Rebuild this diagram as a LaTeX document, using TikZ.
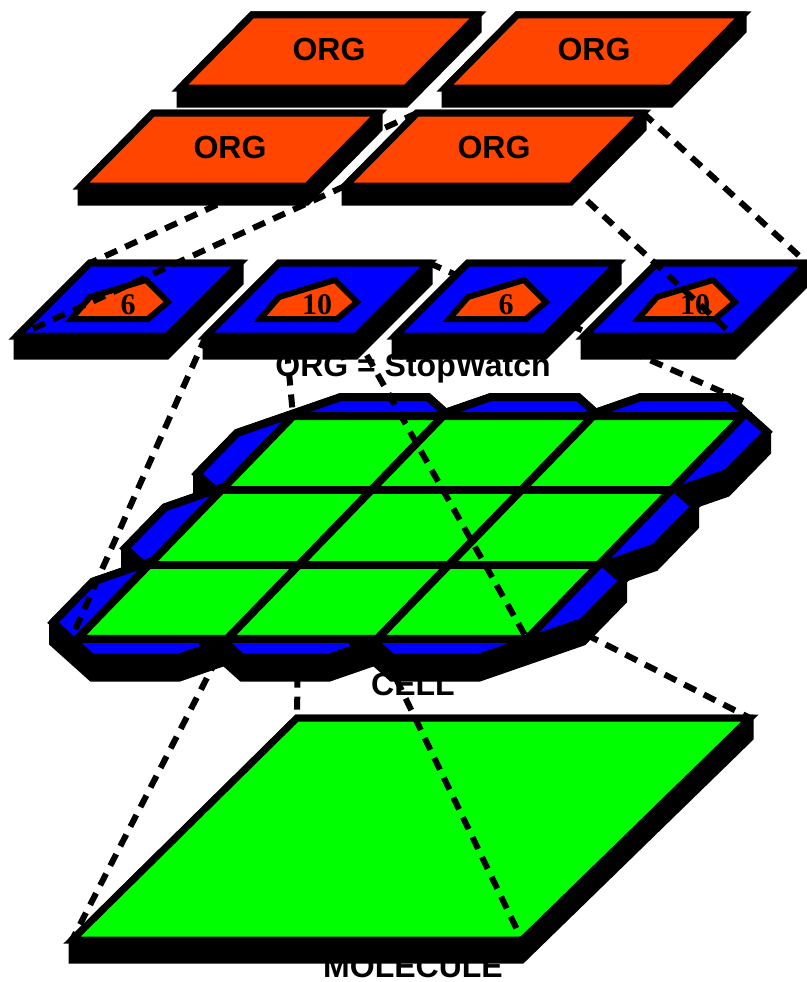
\documentclass[tikz,border=0pt]{standalone}
\usepackage{fontspec}
\setmainfont{Liberation Sans}
\newfontfamily\numfont{Liberation Serif}
\usepackage{tikz}
\usetikzlibrary{calc}
\definecolor{orgred}{HTML}{FF4500}
\definecolor{slabblue}{HTML}{0000FF}
\definecolor{cellgreen}{HTML}{00FF00}
\pgfkeys{tikz/layerlabel/.style={font=\bfseries\fontsize{32}{36}\selectfont,inner sep=0pt,anchor=base}}
\pgfkeys{tikz/numlabel/.style={font=\numfont\bfseries\fontsize{30}{32}\selectfont,inner sep=0pt,anchor=base}}
\pgfkeys{tikz/orgface/.style={fill=orgred,draw=black,line width=7pt}}
\pgfkeys{tikz/tileface/.style={fill=slabblue,draw=black,line width=7pt}}
\pgfkeys{tikz/cellface/.style={fill=cellgreen,draw=black,line width=8pt}}
\pgfkeys{tikz/sidewall/.style={fill=black,draw=black,line width=7pt}}
\pgfkeys{tikz/zoomline/.style={draw=black,line width=6pt,dash pattern=on 13pt off 9pt}}

\begin{document}
\begin{tikzpicture}[x=1pt,y=-1pt]
  \useasboundingbox (0,0) rectangle (806,982);

  % captions first, the plates cover their tops
  \node[layerlabel] (cap-org) at (413,376) {ORG = StopWatch};
  \node[layerlabel] (cap-cell) at (413,695) {CELL};
  \node[layerlabel] (cap-mol) at (413,977) {MOLECULE};

  % corners of everything
  \coordinate (mol-nw) at (297,718);
  \coordinate (mol-ne) at (750,718);
  \coordinate (mol-se) at (522,940);
  \coordinate (mol-sw) at (72,940);
  \foreach \row in {0,...,3}
    \foreach \col in {0,...,3}
      \coordinate (g\row\col) at ({293-72*\row+150*\col},{416+74.33*\row});
  \coordinate (cell-sw) at (75,630);
  \coordinate (cell-ne) at (743,401);
  \foreach \x [count=\i from 0] in {90,279,468,657} {
    \coordinate (t\i-nw) at (\x,263);
    \coordinate (t\i-ne) at ({\x+150},263);
    \coordinate (t\i-se) at ({\x+77},336);
    \coordinate (t\i-sw) at ({\x-73},336);
  }
  \foreach \name/\x/\y in {a/252/15,b/517/15,c/153/113,d/417/113} {
    \coordinate (\name-nw) at (\x,\y);
    \coordinate (\name-ne) at ({\x+226},\y);
    \coordinate (\name-se) at ({\x+154},{\y+73});
    \coordinate (\name-sw) at ({\x-72},{\y+73});
  }

  % molecule
  \draw[sidewall] (mol-nw) -- (mol-ne) -- ++(0,20) -- ($(mol-se)+(0,20)$) -- ($(mol-sw)+(0,20)$) -- (mol-sw) -- cycle;
  \draw[cellface,line width=7pt] (mol-nw) -- (mol-ne) -- (mol-se) -- (mol-sw) -- cycle;

  \draw[zoomline] (g21) -- (mol-nw);
  \draw[zoomline] (g22) -- (mol-ne);
  \draw[zoomline] (g32) -- (mol-se);
  \draw[zoomline] (g31) -- (mol-sw);

  % cell: one slab under every square, back rows first
  \foreach \row in {0,1,2}
    \foreach \col in {0,1,2} {
      \begin{scope}[shift={($(g\row\col)+(39,37)$)}]
        \draw[sidewall,line width=8pt] (-135,21) -- (-95,-20) -- (9,-56) -- (96,-56) -- (135,-21)
          -- (135,-1) -- (95,40) -- (-9,76) -- (-96,76) -- (-135,41) -- cycle;
        \draw[tileface,line width=8pt] (-135,21) -- (-95,-20) -- (9,-56) -- (96,-56) -- (135,-21)
          -- (95,20) -- (-9,56) -- (-96,56) -- cycle;
      \end{scope}
    }
  \draw[cellface] (g00) -- (g03) -- (g33) -- (g30) -- cycle;
  \foreach \k in {1,2} {
    \draw[line width=8pt] (g\k0) -- (g\k3);
    \draw[line width=8pt] (g0\k) -- (g3\k);
  }

  \draw[zoomline] (t1-sw) -- (cell-sw);
  \draw[zoomline] (t1-nw) -- (g00);
  \draw[zoomline] (t1-se) -- (g33);
  \draw[zoomline] (t1-ne) -- (cell-ne);

  % stopwatches
  \foreach \num [count=\i from 0] in {6,10,6,10} {
    \draw[sidewall] (t\i-nw) -- (t\i-ne) -- ++(0,20) -- ($(t\i-se)+(0,20)$) -- ($(t\i-sw)+(0,20)$) -- (t\i-sw) -- cycle;
    \draw[tileface] (t\i-nw) -- (t\i-ne) -- (t\i-se) -- (t\i-sw) -- cycle;
    \begin{scope}[shift={(t\i-nw)}]
      \draw[orgface,line width=6pt] (-19,56) -- (0,34) -- (56,17) -- (78,39) -- (58,56) -- cycle;
      \node[numlabel] (t\i-num) at (38,51) {\num};
    \end{scope}
  }

  \draw[zoomline] (d-nw) -- (t0-nw);
  \draw[zoomline] (d-sw) -- (t0-sw);
  \draw[zoomline] (d-ne) -- (t3-ne);
  \draw[zoomline] (d-se) -- (t3-se);

  % organisms
  \foreach \name in {a,b,c,d} {
    \draw[sidewall] (\name-nw) -- (\name-ne) -- ++(0,16) -- ($(\name-se)+(0,16)$) -- ($(\name-sw)+(0,16)$) -- (\name-sw) -- cycle;
    \draw[orgface] (\name-nw) -- (\name-ne) -- (\name-se) -- (\name-sw) -- cycle;
    \node[layerlabel] (\name-txt) at ($(\name-nw)+(77,45)$) {ORG};
  }
\end{tikzpicture}
\end{document}
